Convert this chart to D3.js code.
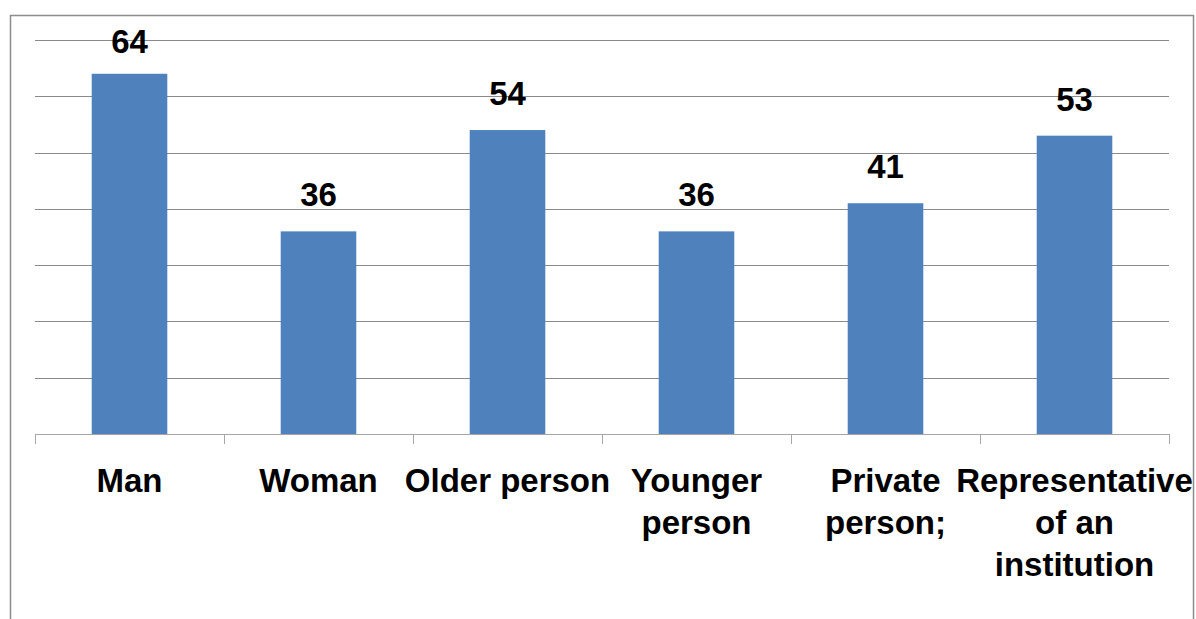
<!DOCTYPE html>
<html>
<head>
<meta charset="utf-8">
<script src="https://cdn.jsdelivr.net/npm/d3@7"></script>
<style>
  html, body { margin: 0; padding: 0; background: #fff; }
  svg { display: block; }
  text { font-family: "Liberation Sans", Arial, sans-serif; font-weight: bold; fill: #000; }
</style>
</head>
<body>
<svg id="chart" width="1196" height="619"></svg>
<script>
// Categories (each entry is a list of label lines) and their values
const categories = [
  ["Man"],
  ["Woman"],
  ["Older person"],
  ["Younger", "person"],
  ["Private", "person;"],
  ["Representative", "of an", "institution"]
];
const values = [64, 36, 54, 36, 41, 53];
const gridTicks = [10, 20, 30, 40, 50, 60, 70];

const svg = d3.select("#chart");

// Outer frame (open at the bottom, running past the lower edge)
svg.append("rect")
  .attr("x", 10.5).attr("y", 15.5)
  .attr("width", 1183).attr("height", 640)
  .attr("fill", "none")
  .attr("stroke", "#8c8c8c")
  .attr("stroke-width", 1.5);

const plot = { left: 35, right: 1169, top: 40, bottom: 434 };

const x = d3.scaleBand()
  .domain(d3.range(categories.length))
  .range([plot.left, plot.right])
  .paddingInner(0.6)
  .paddingOuter(0.3);

const xOuter = d3.scaleBand()
  .domain(d3.range(categories.length))
  .range([plot.left, plot.right]);

const y = d3.scaleLinear()
  .domain([0, 70])
  .range([plot.bottom, plot.top]);

// Horizontal gridlines
svg.append("g")
  .selectAll("line")
  .data(gridTicks)
  .join("line")
  .attr("x1", plot.left).attr("x2", plot.right)
  .attr("y1", d => Math.round(y(d)) + 0.5)
  .attr("y2", d => Math.round(y(d)) + 0.5)
  .attr("stroke", "#8a8a8a")
  .attr("stroke-width", 1);

// Bars
svg.append("g")
  .selectAll("rect")
  .data(values)
  .join("rect")
  .attr("x", (d, i) => x(i))
  .attr("width", x.bandwidth())
  .attr("y", d => y(d))
  .attr("height", d => y(0) - y(d))
  .attr("fill", "#4f81bd");

// Category axis line and boundary ticks
const axisG = svg.append("g");
axisG.append("line")
  .attr("x1", plot.left).attr("x2", plot.right)
  .attr("y1", plot.bottom + 0.5).attr("y2", plot.bottom + 0.5)
  .attr("stroke", "#a6a6a6");
const boundaries = d3.range(categories.length).map(i => xOuter(i)).concat([plot.right]);
axisG.selectAll("line.tick")
  .data(boundaries)
  .join("line")
  .attr("class", "tick")
  .attr("x1", d => Math.round(d) + 0.5).attr("x2", d => Math.round(d) + 0.5)
  .attr("y1", plot.bottom).attr("y2", plot.bottom + 10)
  .attr("stroke", "#a6a6a6");

// Value labels above bars (kept inside the frame for the tallest bar)
svg.append("g")
  .selectAll("text")
  .data(values)
  .join("text")
  .attr("x", (d, i) => x(i) + x.bandwidth() / 2)
  .attr("y", d => Math.max(y(d) - 25, 53))
  .attr("text-anchor", "middle")
  .style("font-size", "33px")
  .text(d => d);

// Category labels
const catG = svg.append("g");
categories.forEach((lines, i) => {
  const cx = xOuter(i) + xOuter.bandwidth() / 2;
  const t = catG.append("text")
    .attr("x", cx)
    .attr("y", 492)
    .attr("text-anchor", "middle")
    .style("font-size", "33px");
  lines.forEach((ln, j) => {
    t.append("tspan")
      .attr("x", cx)
      .attr("dy", j === 0 ? 0 : 42)
      .text(ln);
  });
});
</script>
</body>
</html>
